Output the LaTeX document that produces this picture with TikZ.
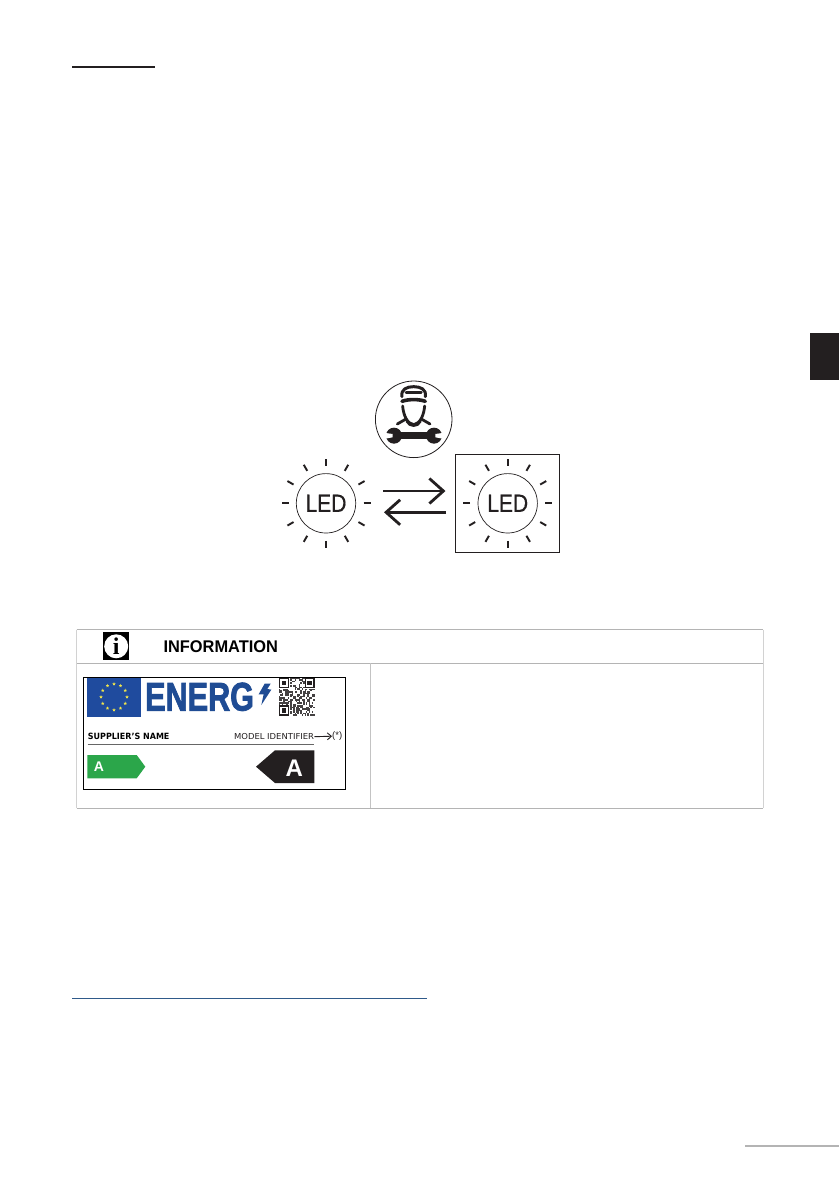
\documentclass[tikz,border=0pt]{standalone}
\usepackage{fontspec}
\usepackage{graphicx}
\setmainfont{Liberation Sans}
\newfontfamily\serifbold[BoldFont={Liberation Serif Bold}]{Liberation Serif}
\newfontfamily\labelfont{DejaVu Sans}
\usetikzlibrary{arrows.meta,shapes.geometric,calc}
\definecolor{inkblack}{HTML}{231F20}
\definecolor{gridgrey}{HTML}{B4B4B4}
\definecolor{eublue}{HTML}{1F4B9E}
\definecolor{enblue}{HTML}{1F4C94}
\definecolor{linkblue}{HTML}{2F5A8A}
\definecolor{labelgreen}{HTML}{2BA64A}
\definecolor{staryellow}{HTML}{F2E64A}
\tikzset{
  ledcircle/.style={circle,draw=inkblack,line width=.7pt,minimum size=59.4pt,inner sep=0pt,
    font=\fontsize{25}{25}\selectfont,text=inkblack},
  raymark/.style={inkblack,line width=1.9pt},
  swaparrow/.style={inkblack,line width=2.8pt,-{Straight Barb[length=14pt,width=25pt,line width=2.8pt]}},
  tableline/.style={gridgrey,line width=1pt},
  eustar/.style={star,star points=5,star point ratio=2.4,fill=staryellow,inner sep=0pt,minimum size=3.6pt},
  iconstroke/.style={inkblack,line cap=round,line join=round},
}
\newcommand{\ledrays}[2]{%
  \foreach \a in {0,30,...,330}{
    \draw[raymark] (#1,#2) ++(\a:37.5pt) -- ++(\a:7pt);
  }}
\begin{document}
\begin{tikzpicture}[x=1pt,y=-1pt]
\useasboundingbox (0,0) rectangle (839,1191);
\fill[white] (0,0) rectangle (839,1191);

% page furniture
\coordinate (ruleAa) at (72,66.8);
\coordinate (ruleAb) at (155,66.8);
\draw[inkblack,line width=1.9pt] (ruleAa) -- (ruleAb);
\coordinate (linkA) at (72,998.3);
\coordinate (linkB) at (427,998.3);
\draw[linkblue,line width=1pt] (linkA) -- (linkB);
\coordinate (footA) at (745,1145.7);
\coordinate (footB) at (839,1145.7);
\draw[gridgrey,line width=2pt] (footA) -- (footB);
\fill[inkblack] (810,332.7) rectangle (839,380);

% service icon
\node[circle,draw=inkblack,line width=.8pt,minimum size=76.6pt,inner sep=0pt] (svc) at (413.7,419.3) {};
\begin{scope}[shift={(270,350)},x=.3333pt,y=-.3333pt]
  % helmet
  \draw[iconstroke,line width=3pt] (396,140) .. controls (392,118) and (410,110) .. (431,110) .. controls (452,110) and (470,118) .. (466,140);
  \draw[iconstroke,line width=2.6pt] (408,128) -- (454,128);
  \draw[iconstroke,line width=3.6pt] (396,154) .. controls (415,147) and (447,147) .. (466,154);
  % face
  \draw[iconstroke,line width=2.8pt] (398,168) .. controls (400,195) and (412,222) .. (431,224) .. controls (450,222) and (462,195) .. (464,168);
  % shoulders
  \draw[iconstroke,line width=2.8pt] (382,222) -- (408,207);
  \draw[iconstroke,line width=2.8pt] (480,222) -- (454,207);
  \draw[iconstroke,line width=2.2pt] (410,214) .. controls (418,232) and (444,232) .. (452,214);
  % wrench
  \fill[inkblack] (372,247) rectangle (492,268);
  \fill[inkblack] (372,257) circle (24);
  \fill[inkblack] (492,257) circle (24);
  \fill[white] (340,248) -- (368,252) -- (368,262) -- (340,267) -- cycle;
  \fill[white] (524,248) -- (496,252) -- (496,262) -- (524,267) -- cycle;
\end{scope}

% LED symbols
\node[ledcircle] (ledA) at (326,503.3) {\addfontfeature{FakeBold=.5}\scalebox{.84}[1]{LED}};
\ledrays{326}{503.3}
\node[ledcircle] (ledB) at (507.7,503.3) {\addfontfeature{FakeBold=.5}\scalebox{.84}[1]{LED}};
\ledrays{507.7}{503.3}
\node[draw=inkblack,line width=.9pt,minimum width=104pt,minimum height=97.3pt,inner sep=0pt] (ledbox) at (507.3,503.3) {};

% swap arrows
\coordinate (arrTs) at (383.3,491);
\coordinate (arrTe) at (445.5,491);
\coordinate (arrBs) at (446,512.3);
\coordinate (arrBe) at (384,512.3);
\draw[swaparrow] (arrTs) -- (arrTe);
\draw[swaparrow] (arrBs) -- (arrBe);

% information table
\draw[tableline] (76.7,629.7) -- (763,629.7);
\draw[tableline] (76.7,663.3) -- (763,663.3);
\draw[tableline] (76.7,808.3) -- (763,808.3);
\draw[gridgrey!60,line width=.6pt] (76.7,629.7) -- (76.7,808.3);
\draw[gridgrey!60,line width=.6pt] (763,629.7) -- (763,808.3);
\draw[gridgrey!80,line width=.6pt] (370.5,663.3) -- (370.5,808.3);

% information icon
\fill[black] (103,632.3) rectangle (129.3,660.3);
\node[circle,fill=white,minimum size=24pt,inner sep=0pt,font=\serifbold\bfseries\fontsize{24}{24}\selectfont] (infoi) at (116.2,646.3) {i};
\node[font=\bfseries\fontsize{16.9}{17}\selectfont,anchor=west,inner sep=0pt,text=black] (infotxt) at (163.3,647) {\scalebox{.97}[1]{INFORMATION}};

% energy label
\node[draw=black,line width=.9pt,minimum width=262.4pt,minimum height=111.7pt,inner sep=0pt] (label) at (214.5,733.2) {};
\fill[eublue] (87.3,677.7) rectangle (140.7,716.7);
\foreach \k in {0,30,...,330}{
  \node[eustar] (st\k) at ($(114,697)+(\k:13pt)$) {};
}
\node[anchor=west,inner sep=0pt,text=enblue,font=\bfseries\fontsize{40}{40}\selectfont] (energ) at (145,696.8) {\addfontfeature{FakeBold=2.2}\scalebox{.765}[1]{ENERG}};
\begin{scope}[shift={(70,625)},x=.3333pt,y=-.3333pt]
  \fill[enblue] (584,176) -- (602,176) -- (592,192) -- (604,194) -- (574,240) -- (581,208) -- (566,208) -- cycle;
\end{scope}

% QR code
\begin{scope}[shift={(279,677.7)},x=1.42pt,y=-1.52pt]
  \pgfmathsetseed{4242}
  \foreach \r in {0,...,24}{
    \foreach \c in {0,...,24}{
      \pgfmathparse{rnd<.5?1:0}
      \ifnum\pgfmathresult=1
        \fill[inkblack!85] (\c,\r) rectangle (\c+1,\r+1);
      \fi
    }
  }
  \foreach \ox/\oy in {0/0,18/0,0/18}{
    \fill[white] (\ox-.0,\oy-.0) rectangle (\ox+7.6,\oy+7.6);
    \fill[inkblack] (\ox,\oy) rectangle (\ox+7,\oy+7);
    \fill[white] (\ox+1,\oy+1) rectangle (\ox+6,\oy+6);
    \fill[inkblack] (\ox+2,\oy+2) rectangle (\ox+5,\oy+5);
  }
\end{scope}

\node[anchor=west,inner sep=0pt,font=\labelfont\bfseries\fontsize{8.6}{9}\selectfont] (supplier) at (87.7,736.7) {\scalebox{.93}[1]{SUPPLIER’S NAME}};
\node[anchor=east,inner sep=0pt,text=inkblack,font=\labelfont\fontsize{8.2}{9}\selectfont] (model) at (314.3,736.7) {\scalebox{1.03}[1]{MODEL IDENTIFIER}};
\node[anchor=west,inner sep=0pt,text=inkblack,font=\fontsize{9.5}{10}\selectfont] (star) at (332,736.2) {(*)};
\draw[inkblack,line width=.9pt,-{Straight Barb[length=4pt,width=7pt,line width=.9pt]}] (model.east) -- (star.west);
\coordinate (sepA) at (87.7,744.3);
\coordinate (sepB) at (314.3,744.3);
\draw[black!60,line width=.8pt] (sepA) -- (sepB);

\fill[labelgreen] (87.3,755) -- (136.7,755) -- (145.3,766.7) -- (136.7,778.3) -- (87.3,778.3) -- cycle;
\node[text=white,font=\bfseries\fontsize{14}{14}\selectfont,inner sep=0pt] (gradeA) at (99,766.5) {A};
\fill[inkblack] (256,766.7) -- (275,750.3) -- (314.3,750.3) -- (314.3,783) -- (275,783) -- cycle;
\node[text=white,font=\bfseries\fontsize{24}{24}\selectfont,inner sep=0pt] (gradeB) at (294.3,768.5) {A};
\end{tikzpicture}
\end{document}
